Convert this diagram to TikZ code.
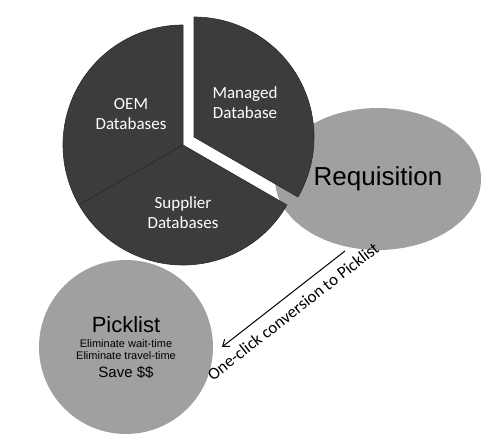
\documentclass[tikz,border=0pt]{standalone}
\usepackage{fontspec}
\setmainfont{Liberation Sans}
\newfontfamily\calibri{Carlito}
\usetikzlibrary{shapes.geometric,arrows.meta}
\definecolor{piedark}{HTML}{3C3C3C}
\definecolor{pieedge}{HTML}{2A2A2A}
\definecolor{bubble}{HTML}{A0A0A0}
\tikzset{
  slice/.style={fill=piedark, draw=pieedge, line width=0.6pt},
  pielabel/.style={text=white, font=\calibri\fontsize{17}{20}\selectfont, align=center, inner sep=0pt},
  bubblefill/.style={fill=bubble, draw=none},
  picktext/.style={anchor=base, inner sep=0pt},
  conv/.style={draw=black, line width=1pt, -{Straight Barb[length=6pt,width=9pt]}},
}
\begin{document}
\begin{tikzpicture}[x=1pt,y=1pt]
\useasboundingbox (0,0) rectangle (498,440);
% Requisition ellipse (behind the pie)
\node[ellipse, bubblefill, minimum width=206pt, minimum height=142pt, inner sep=0pt,
      font=\fontsize{26}{30}\selectfont] (req) at (378,261) {Requisition};
% Pie slices
\filldraw[slice] (183,295) -- ++(90:120) arc[start angle=90, end angle=210, radius=120] -- cycle;
\filldraw[slice] (183,295) -- ++(210:120) arc[start angle=210, end angle=330, radius=120] -- cycle;
\filldraw[slice] (194,303) -- ++(-30:120) arc[start angle=-30, end angle=90, radius=120] -- cycle;
\node[pielabel] (oem) at (131,326) {OEM\\Databases};
\node[pielabel] (man) at (245,337) {Managed\\Database};
\node[pielabel] (sup) at (183,227) {Supplier\\Databases};
% Picklist circle
\node[circle, bubblefill, minimum size=174pt, inner sep=0pt] (pick) at (126,93) {};
\node[picktext, font=\fontsize{22}{24}\selectfont] (pt1) at (126,108) {Picklist};
\node[picktext, font=\fontsize{11}{12}\selectfont] (pt2) at (126,93) {Eliminate wait-time};
\node[picktext, font=\fontsize{11}{12}\selectfont] (pt3) at (126,81) {Eliminate travel-time};
\node[picktext, font=\fontsize{15}{17}\selectfont] (pt4) at (126,63) {Save \$\$};
% Conversion arrow
\coordinate (a1) at (345,189);
\coordinate (a2) at (222,93);
\draw[conv] (a1) -- node[sloped, below=9pt, font=\calibri\fontsize{17}{19}\selectfont, inner sep=0pt] (convlabel) {One-click conversion to Picklist} (a2);
\end{tikzpicture}
\end{document}
